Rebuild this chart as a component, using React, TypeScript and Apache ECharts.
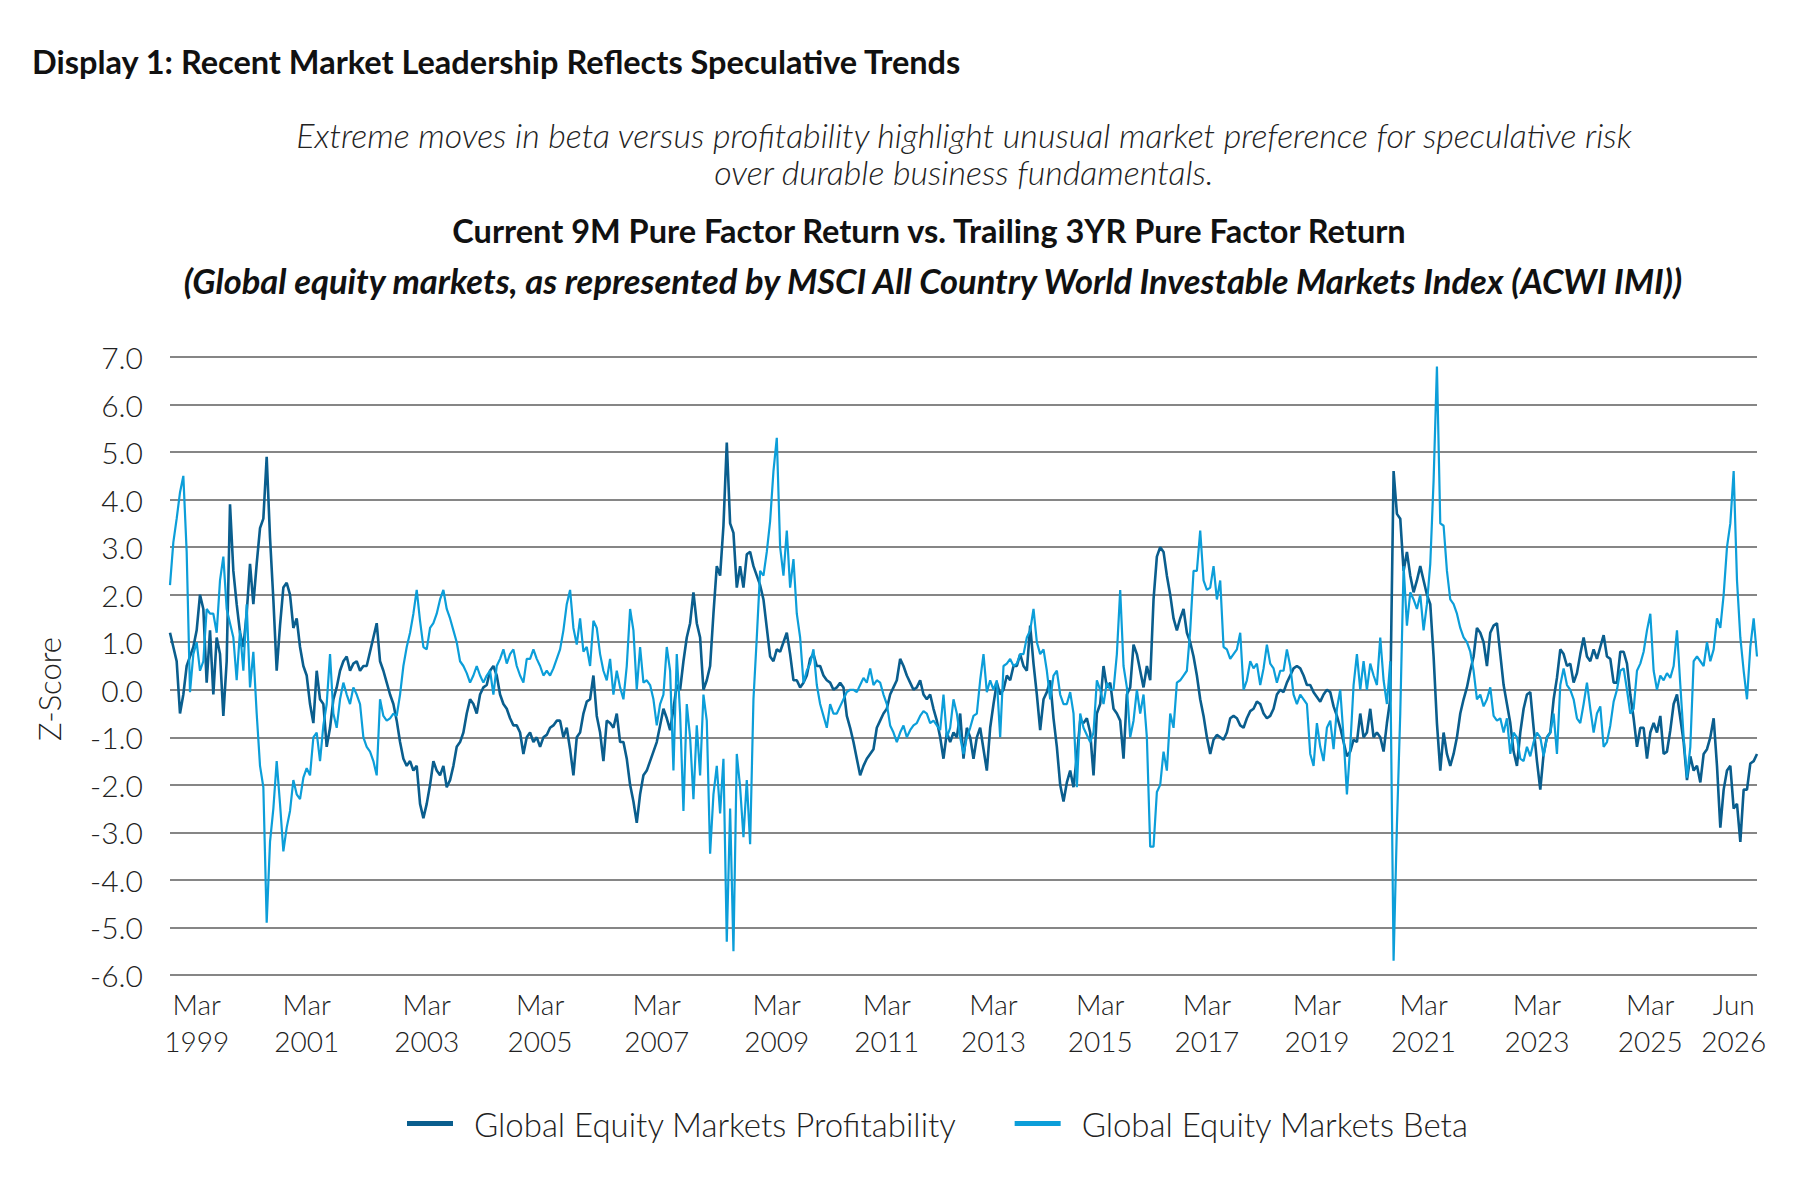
import React, { useEffect, useRef } from "react";
import * as echarts from "echarts";

// Global Equity Markets Profitability (Z-Score) at even steps
const profitability: number[] = [
  1.2, 0.9, 0.6, -0.5, -0.1, 0.5, 0.7, 0.9, 1.25, 2.0,
  1.7, 0.15, 1.25, -0.1, 1.1, 0.75, -0.55, 0.6, 3.9, 2.5,
  1.8, 1.2, 0.9, 1.6, 2.65, 1.8, 2.65, 3.4, 3.6, 4.9,
  3.2, 1.9, 0.4, 1.35, 2.15, 2.25, 2.0, 1.3, 1.5, 0.9,
  0.5, 0.3, -0.3, -0.7, 0.4, -0.2, -0.3, -1.2, -0.8, -0.2,
  0.05, 0.4, 0.6, 0.7, 0.4, 0.55, 0.6,
  0.4, 0.5, 0.5, 0.8, 1.1, 1.4, 0.6, 0.4, 0.15, -0.1,
  -0.3, -0.65, -1.1, -1.45, -1.6, -1.5, -1.7, -1.6, -2.4, -2.7,
  -2.4, -2.0, -1.5, -1.7, -1.8, -1.6, -2.05, -1.9, -1.6, -1.2,
  -1.1, -0.9, -0.5, -0.2, -0.3, -0.5, -0.1, 0.05, 0.1, 0.4,
  0.5, 0.3, -0.1, -0.3, -0.4, -0.6, -0.75, -0.75, -0.9, -1.35,
  -1.0, -0.9, -1.1, -1.0, -1.2, -1.0, -0.95, -0.8, -0.75, -0.65,
  -0.65, -1.0, -0.8, -1.25, -1.8, -1.0, -0.9, -0.5, -0.25, -0.2,
  0.3, -0.55, -0.9, -1.5, -0.65, -0.7, -0.8, -0.5, -1.1, -1.1,
  -1.45, -2.0, -2.35, -2.8, -2.2, -1.8, -1.7, -1.5, -1.3, -1.1,
  -0.75, -0.4, -0.6, -0.85, -0.4, 0.1, 0.0, 0.6, 1.1, 1.4,
  2.05, 1.4, 1.1, 0.0, 0.2, 0.5, 1.6, 2.6, 2.4, 3.45,
  5.2, 3.5, 3.3, 2.15, 2.6, 2.15, 2.85, 2.9, 2.6, 2.4,
  2.2, 1.9, 1.3, 0.7, 0.6, 0.85, 0.8, 1.0, 1.2, 0.75,
  0.2, 0.2, 0.05, 0.15, 0.3, 0.65, 0.75, 0.5, 0.5, 0.3,
  0.2, 0.15, 0.0, 0.05, 0.15, 0.05, -0.55, -0.8, -1.1, -1.45,
  -1.8, -1.6, -1.45, -1.35, -1.25, -0.8, -0.65, -0.5, -0.4, -0.1,
  0.05, 0.2, 0.65, 0.5, 0.3, 0.15, 0.0, 0.05, 0.2, -0.1,
  -0.2, -0.1, -0.4, -0.65, -1.0, -1.45, -0.9, -1.1, -0.9, -1.0,
  -0.5, -1.45, -0.8, -1.0, -1.45, -1.0, -0.8, -1.25, -1.7, -0.8,
  -0.3, 0.15, -0.1, 0.0, 0.3, 0.2, 0.5, 0.5, 0.75, 0.5,
  0.4, 1.35, 0.55, -0.1, -0.85, -0.2, -0.05, 0.2, -0.6, -1.2,
  -2.0, -2.35, -1.95, -1.7, -2.05, -1.4, -0.65, -0.7, -0.6, -0.9,
  -1.8, -0.5, -0.3, 0.5, 0.05, 0.15, -0.4, -0.5, -0.65, -1.45,
  -0.1, 0.05, 0.95, 0.75, 0.4, 0.05, 0.5, 0.2, 1.9, 2.8,
  3.0, 2.9, 2.4, 2.0, 1.5, 1.25, 1.5, 1.7, 1.2, 1.0,
  0.7, 0.3, -0.2, -0.55, -1.0, -1.35, -1.05, -0.95, -1.0, -1.05,
  -0.9, -0.6, -0.55, -0.6, -0.75, -0.8, -0.6, -0.45, -0.4, -0.25,
  -0.3, -0.5, -0.6, -0.55, -0.4, -0.1, 0.0, -0.05, 0.15, 0.3,
  0.45, 0.5, 0.45, 0.3, 0.1, 0.1, -0.05, -0.15, -0.25, -0.1,
  0.0, -0.05, -0.35, -0.55, -0.8, -1.1, -1.4, -1.3, -1.05, -1.1,
  -0.5, -1.0, -0.9, -0.4, -1.0, -0.9, -1.0, -1.3, -0.7, -0.2,
  4.6, 3.7, 3.6, 2.5, 2.9, 2.4, 2.05, 2.3, 2.6, 2.3,
  2.0, 1.8, 0.7, -0.7, -1.7, -0.9, -1.35, -1.6, -1.35, -1.0,
  -0.5, -0.2, 0.05, 0.4, 0.7, 1.3, 1.2, 1.0, 0.5, 1.2,
  1.35, 1.4, 0.75, 0.1, -0.3, -0.7, -1.3, -1.6, -0.9, -0.4,
  -0.1, -0.05, -0.8, -1.5, -2.1, -1.35, -1.0, -0.9, -0.2, 0.25,
  0.85, 0.75, 0.5, 0.55, 0.15, 0.35, 0.75, 1.1, 0.7, 0.6,
  0.85, 0.65, 0.9, 1.15, 0.7, 0.65, 0.15, 0.15, 0.8, 0.8,
  0.55, -0.1, -0.6, -1.2, -0.8, -0.8, -1.45, -0.9, -0.7, -0.9,
  -0.55, -1.35, -1.3, -0.85, -0.3, -0.1, -0.6, -1.1, -1.9, -1.4,
  -1.7, -1.6, -1.95, -1.35, -1.25, -1.0, -0.6, -1.6, -2.9, -2.1,
  -1.7, -1.6, -2.5, -2.4, -3.2, -2.1, -2.1, -1.55, -1.5, -1.35,
];

// Global Equity Markets Beta (Z-Score)
const beta: number[] = [
  2.2, 3.1, 3.6, 4.15, 4.5, 2.9, -0.05, 0.75, 1.0, 0.4,
  0.6, 1.7, 1.6, 1.6, 1.2, 2.3, 2.8, 1.7, 1.4, 1.1,
  0.2, 1.25, 0.4, 1.8, 0.05, 0.8, -0.5, -1.6, -2.05, -4.9,
  -3.2, -2.5, -1.5, -2.4, -3.4, -2.9, -2.55, -1.9, -2.2, -2.3,
  -1.85, -1.65, -1.8, -1.0, -0.9, -1.5, -0.75, -0.3, 0.75, -0.5,
  -0.8, -0.2, 0.15, -0.1, -0.3, 0.05, -0.1,
  -0.3, -1.0, -1.2, -1.3, -1.5, -1.8, -0.2, -0.55, -0.65, -0.6,
  -0.5, -0.55, -0.1, 0.5, 0.9, 1.2, 1.6, 2.1, 1.45, 0.9,
  0.85, 1.3, 1.4, 1.6, 1.9, 2.1, 1.7, 1.5, 1.25, 1.0,
  0.6, 0.5, 0.35, 0.15, 0.3, 0.5, 0.3, 0.15, 0.3, 0.4,
  -0.1, 0.5, 0.65, 0.85, 0.55, 0.75, 0.85, 0.5, 0.3, 0.15,
  0.65, 0.65, 0.85, 0.65, 0.5, 0.3, 0.4, 0.3, 0.45, 0.65,
  0.85, 1.25, 1.8, 2.1, 1.3, 0.95, 1.5, 0.8, 0.9, 0.5,
  1.45, 1.3, 0.75, 0.4, 0.2, 0.65, -0.1, 0.4, 0.05, -0.2,
  0.5, 1.7, 1.25, 0.0, 0.9, 0.15, 0.2, 0.1, -0.2, -0.75,
  -0.3, -0.1, 0.9, 0.4, -1.7, 0.75, -0.5, -2.55, -0.3, -1.0,
  -2.3, -0.75, -1.8, -0.1, -0.65, -3.45, -2.2, -1.6, -2.6, -1.45,
  -5.3, -2.5, -5.5, -1.35, -2.05, -3.1, -1.9, -3.25, -0.2, 1.1,
  2.5, 2.4, 2.9, 3.55, 4.6, 5.3, 3.0, 2.4, 3.35, 2.15,
  2.75, 1.6, 1.1, 0.15, 0.4, 0.55, 0.85, 0.1, -0.3, -0.55,
  -0.8, -0.3, -0.5, -0.5, -0.35, -0.2, -0.05, 0.0, 0.0, -0.05,
  0.1, 0.25, 0.15, 0.45, 0.1, 0.2, 0.15, -0.1, -0.3, -0.75,
  -0.9, -1.1, -0.9, -0.75, -1.0, -0.85, -0.75, -0.7, -0.55, -0.45,
  -0.5, -0.7, -0.65, -0.75, -0.85, -0.1, -1.0, -0.8, -0.2, -0.5,
  -1.0, -1.35, -1.0, -0.8, -0.55, -0.5, 0.2, 0.75, -0.05, 0.2,
  0.0, 0.2, -1.0, 0.5, 0.55, 0.65, 0.5, 0.55, 0.75, 0.75,
  1.1, 1.25, 1.7, 1.0, 0.75, 0.85, 0.4, -0.2, 0.3, 0.4,
  -0.1, -0.3, -0.3, -0.05, -0.5, -2.05, -0.5, -0.8, -0.95, -1.1,
  -0.9, 0.2, 0.0, -0.3, 0.15, 0.0, 0.0, 0.75, 2.1, 0.5,
  0.05, -1.0, -0.65, 0.0, -0.5, -0.1, -1.0, -3.3, -3.3, -2.15,
  -2.0, -1.3, -1.7, -0.5, -0.8, 0.15, 0.2, 0.3, 0.4, 1.25,
  2.5, 2.5, 3.35, 2.3, 2.1, 2.15, 2.6, 1.9, 2.3, 0.9,
  0.85, 0.65, 0.75, 0.85, 1.2, 0.0, 0.2, 0.6, 0.45, 0.55,
  0.1, 0.45, 0.95, 0.55, 0.45, 0.15, 0.4, 0.4, 0.85, 0.5,
  -0.1, -0.3, -0.1, -0.2, -0.3, -1.35, -1.6, -0.7, -1.2, -1.5,
  -0.8, -0.65, -1.25, -0.4, 0.0, -1.0, -2.2, -1.2, 0.1, 0.75,
  0.0, 0.6, 0.0, 0.55, 0.3, 0.1, 1.1, 0.2, -0.3, 0.6,
  -5.7, -2.85, -0.5, 2.6, 1.35, 2.05, 1.9, 1.7, 2.0, 1.25,
  1.8, 2.65, 4.4, 6.8, 3.5, 3.45, 2.5, 1.9, 1.8, 1.6,
  1.3, 1.1, 1.0, 0.8, 0.4, -0.2, -0.1, -0.35, -0.2, 0.05,
  -0.55, -0.65, -0.6, -0.9, -0.6, -1.35, -0.9, -1.0, -1.45, -1.5,
  -1.2, -1.4, -1.1, -0.9, -1.0, -1.4, -1.0, -0.9, -0.5, -1.35,
  0.1, 0.45, 0.1, 0.0, -0.2, -0.6, -0.7, -0.3, 0.15, -0.4,
  -0.9, -0.5, -0.35, -1.2, -1.1, -0.75, -0.25, 0.0, 0.4, 0.45,
  0.0, -0.5, -0.4, 0.4, 0.55, 0.8, 1.25, 1.6, 0.4, 0.0,
  0.3, 0.2, 0.35, 0.25, 0.5, 1.25, 0.1, -1.0, -1.85, -1.2,
  0.6, 0.7, 0.6, 0.5, 1.0, 0.6, 0.85, 1.5, 1.3, 2.0,
  3.0, 3.5, 4.6, 2.3, 1.1, 0.4, -0.2, 0.9, 1.5, 0.7,
];

// x-axis tick labels and the sample index each sits on
const tickIndex: number[] = [8, 41, 77, 111, 146, 182, 215, 247, 279, 311, 344, 376, 410, 444, 469];
const tickLabels: string[] = [
  "Mar\n1999", "Mar\n2001", "Mar\n2003", "Mar\n2005", "Mar\n2007", "Mar\n2009", "Mar\n2011",
  "Mar\n2013", "Mar\n2015", "Mar\n2017", "Mar\n2019", "Mar\n2021", "Mar\n2023", "Mar\n2025", "Jun\n2026",
];
const categories: string[] = profitability.map((_, i) => String(i));

const seriesNames = ["Global Equity Markets Profitability", "Global Equity Markets Beta"];
const colors = ["#0a5e8e", "#0c9ed9"];

const FONT = "Lato";

export default function App() {
  const ref = useRef<HTMLDivElement>(null);
  useEffect(() => {
    if (!ref.current) return;
    const chart = echarts.init(ref.current, null, { renderer: "svg" });
    const labelMap: Record<number, string> = {};
    tickIndex.forEach((idx, k) => (labelMap[idx] = tickLabels[k]));
    chart.setOption({
      animation: false,
      backgroundColor: "#ffffff",
      graphic: [
        {
          type: "text",
          x: 32,
          y: 61,
          style: {
            text: "Display 1: Recent Market Leadership Reflects Speculative Trends",
            font: `bold 32.5px ${FONT}`,
            fill: "#111",
            align: "left",
            verticalAlign: "middle",
          },
        },
        {
          type: "text",
          x: 964,
          y: 134,
          style: {
            text: "Extreme moves in beta versus profitability highlight unusual market preference for speculative risk",
            font: `italic 300 34px ${FONT}`,
            fill: "#222",
            align: "center",
            verticalAlign: "middle",
          },
        },
        {
          type: "text",
          x: 964,
          y: 171,
          style: {
            text: "over durable business fundamentals.",
            font: `italic 300 34px ${FONT}`,
            fill: "#222",
            align: "center",
            verticalAlign: "middle",
          },
        },
        {
          type: "text",
          x: 929,
          y: 230,
          style: {
            text: "Current 9M Pure Factor Return vs. Trailing 3YR Pure Factor Return",
            font: `bold 32.5px ${FONT}`,
            fill: "#111",
            align: "center",
            verticalAlign: "middle",
          },
        },
        {
          type: "text",
          x: 933,
          y: 280,
          style: {
            text: "(Global equity markets, as represented by MSCI All Country World Investable Markets Index (ACWI IMI))",
            font: `italic bold 34.5px ${FONT}`,
            fill: "#111",
            align: "center",
            verticalAlign: "middle",
          },
        },
        {
          type: "text",
          x: 49,
          y: 689,
          rotation: Math.PI / 2,
          style: {
            text: "Z-Score",
            font: `300 31px ${FONT}`,
            fill: "#222",
            align: "center",
            verticalAlign: "middle",
          },
        },
      ],
      legend: {
        left: 402,
        top: 1102,
        icon: "rect",
        itemWidth: 46,
        itemHeight: 5,
        itemGap: 58,
        textStyle: {
          fontFamily: FONT,
          fontWeight: 300,
          fontSize: 33,
          color: "#222",
          padding: [0, 0, 0, 16],
        },
        data: seriesNames,
      },
      grid: {
        left: 170,
        right: 59,
        top: 357,
        bottom: 208,
        containLabel: false,
        outerBoundsMode: "none",
      },
      xAxis: {
        type: "category",
        data: categories,
        boundaryGap: false,
        axisLine: { show: false },
        axisTick: { show: false },
        splitLine: { show: false },
        axisLabel: {
          interval: (index: number) => labelMap[index] !== undefined,
          formatter: (_v: string, index: number) => labelMap[index] ?? "",
          fontFamily: FONT,
          fontWeight: 300,
          fontSize: 28,
          lineHeight: 37,
          color: "#222",
          margin: 10,
        },
      },
      yAxis: {
        type: "value",
        min: -6,
        max: 7,
        interval: 1,
        axisLine: { show: false },
        axisTick: { show: false },
        axisLabel: {
          formatter: (v: number) => v.toFixed(1),
          fontFamily: FONT,
          fontWeight: 300,
          fontSize: 30,
          color: "#222",
          margin: 27,
        },
        splitLine: { show: true, lineStyle: { color: "#5e5e5e", width: 1.6 } },
      },
      series: [
        {
          name: seriesNames[0],
          type: "line",
          data: profitability,
          showSymbol: false,
          symbol: "none",
          color: colors[0],
          lineStyle: { color: colors[0], width: 2.6 },
        },
        {
          name: seriesNames[1],
          type: "line",
          data: beta,
          showSymbol: false,
          symbol: "none",
          color: colors[1],
          lineStyle: { color: colors[1], width: 2.2 },
        },
      ],
    });
    return () => chart.dispose();
  }, []);
  return (
    <div
      ref={ref}
      style={{ position: "fixed", left: 0, top: 0, width: 1816, height: 1183, background: "#fff" }}
    />
  );
}
